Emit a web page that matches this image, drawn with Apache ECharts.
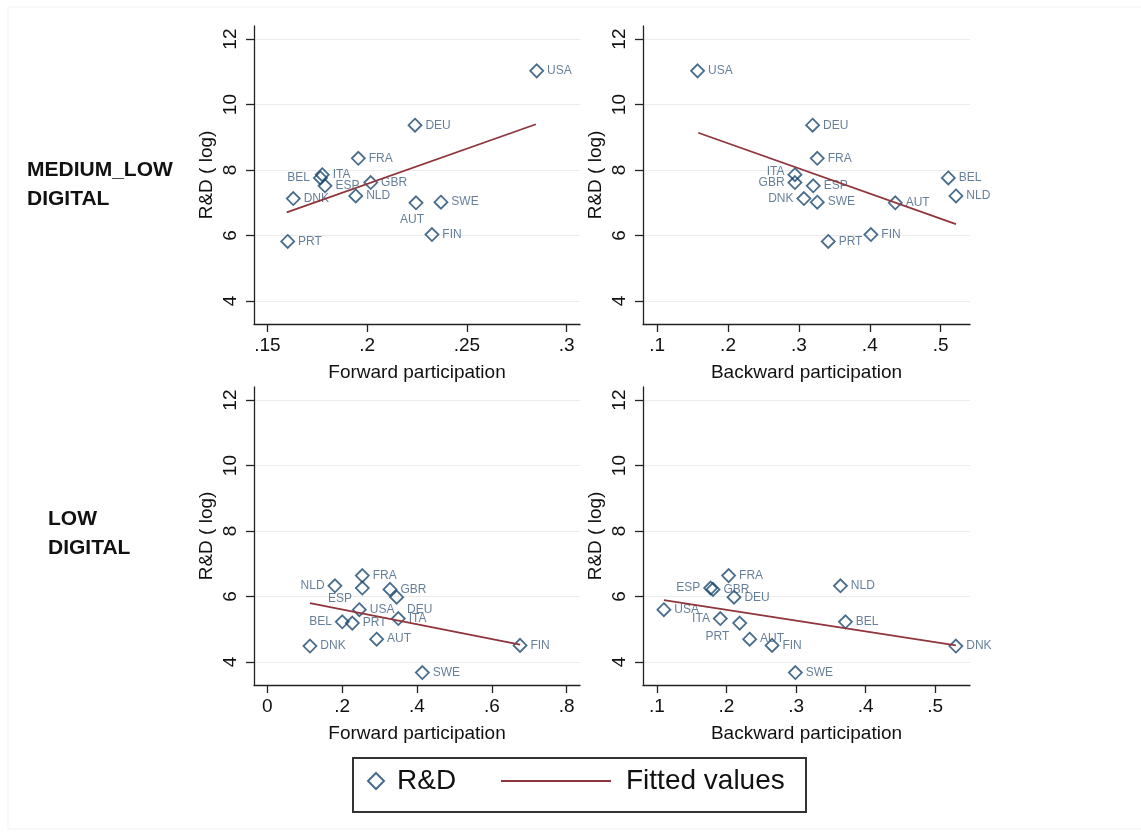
<!DOCTYPE html>
<html>
<head>
<meta charset="utf-8">
<title>R&D vs GVC participation</title>
<script src="https://cdn.jsdelivr.net/npm/echarts@6/dist/echarts.min.js"></script>
<style>
  html, body { margin: 0; padding: 0; background: #fff; }
  #main { width: 1141px; height: 834px; }
</style>
</head>
<body>
<div id="main"></div>
<script>
// ---- data ----
// medium-low digital sectors
const namesMedLow = ['USA', 'DEU', 'FRA', 'ITA', 'BEL', 'GBR', 'ESP', 'NLD', 'DNK', 'AUT', 'SWE', 'FIN', 'PRT'];
const rdMedLow    = [11.03, 9.37, 8.36, 7.86, 7.76, 7.62, 7.52, 7.21, 7.13, 7.00, 7.02, 6.03, 5.82];
const fwdMedLow   = [0.285, 0.224, 0.1956, 0.1775, 0.1766, 0.2018, 0.1789, 0.1943, 0.163, 0.2245, 0.237, 0.2325, 0.1602];
const bwdMedLow   = [0.157, 0.3193, 0.3259, 0.2944, 0.5108, 0.2944, 0.3202, 0.5216, 0.307, 0.436, 0.3259, 0.4016, 0.3414];
const fitFwdMedLow = [[0.1597, 6.71], [0.2846, 9.40]];
const fitBwdMedLow = [[0.1579, 9.14], [0.5216, 6.35]];

// low digital sectors
const namesLow = ['FRA', 'NLD', 'ESP', 'GBR', 'DEU', 'USA', 'ITA', 'BEL', 'PRT', 'AUT', 'FIN', 'DNK', 'SWE'];
const rdLow    = [6.64, 6.33, 6.26, 6.22, 5.98, 5.60, 5.33, 5.23, 5.19, 4.70, 4.51, 4.49, 3.68];
const fwdLow   = [0.2539, 0.1808, 0.2539, 0.3278, 0.3457, 0.2459, 0.3501, 0.2004, 0.2272, 0.2922, 0.6753, 0.114, 0.4143];
const bwdLow   = [0.2031, 0.3638, 0.1772, 0.1806, 0.2108, 0.110, 0.1911, 0.371, 0.219, 0.2333, 0.2655, 0.5297, 0.299];
const fitFwdLow = [[0.114, 5.80], [0.6753, 4.53]];
const fitBwdLow = [[0.110, 5.89], [0.5297, 4.51]];

// tick labels
const yTicks = [4, 6, 8, 10, 12];
const xTicksFwdMedLow = [0.15, 0.2, 0.25, 0.3];
const xTicksBwd = [0.1, 0.2, 0.3, 0.4, 0.5];
const xTicksFwdLow = [0, 0.2, 0.4, 0.6, 0.8];

const navy = '#1a476f';
const maroon = '#90353b';
const font = 'Liberation Sans, Arial, sans-serif';

// where a country label sits when it is not to the right of its marker
const labelLeft = {position: 'left'};
const labelPos = [
  {BEL: labelLeft, AUT: {position: 'bottom', offset: [-4, 0]}},
  {ITA: {position: 'left', offset: [0, -3]}, GBR: labelLeft, DNK: labelLeft},
  {NLD: labelLeft, BEL: labelLeft, ESP: {position: 'left', offset: [0, 11]}, DEU: {position: 'right', offset: [0, 12]}},
  {ESP: labelLeft, ITA: labelLeft, PRT: {position: 'left', offset: [0, 14]}}
];

function tickFmt(v) {
  return String(+(+v).toFixed(2)).replace(/^0\./, '.');
}

function xAxisCfg(idx, min, max, ticks, title) {
  return {
    type: 'value', gridIndex: idx, min: min, max: max,
    name: title, nameLocation: 'middle', nameGap: 39,
    nameTextStyle: {fontSize: 19, color: '#111', fontFamily: font},
    axisLine: {onZero: false, lineStyle: {color: '#222', width: 1.3}},
    axisTick: {length: 8, customValues: ticks, lineStyle: {color: '#222', width: 1.3}},
    axisLabel: {customValues: ticks, formatter: tickFmt, margin: 12, fontSize: 19, color: '#111', fontFamily: font},
    splitLine: {show: false}
  };
}

function yAxisCfg(idx) {
  return {
    type: 'value', gridIndex: idx, min: 3.3, max: 12.4,
    name: 'R&D ( log)', nameLocation: 'middle', nameGap: 38,
    nameTextStyle: {fontSize: 19, color: '#111', fontFamily: font},
    axisLine: {show: true, onZero: false, lineStyle: {color: '#222', width: 1.3}},
    axisTick: {show: true, length: 8, customValues: yTicks, lineStyle: {color: '#222', width: 1.3}},
    axisLabel: {customValues: yTicks, rotate: 90, margin: 14, fontSize: 19, color: '#111', fontFamily: font},
    splitLine: {show: true, lineStyle: {color: '#ebebeb', width: 1}}
  };
}

function scatterSeries(idx, xs, ys, names) {
  const pos = labelPos[idx];
  return {
    name: 'R&D', type: 'scatter', xAxisIndex: idx, yAxisIndex: idx,
    symbol: 'diamond', symbolSize: 13,
    itemStyle: {color: 'rgba(0,0,0,0)', borderColor: navy, borderWidth: 1.8},
    label: {show: true, formatter: '{b}', position: 'right', distance: 3, fontSize: 12, color: '#3e5f82', fontFamily: font},
    data: xs.map(function (x, i) {
      const item = {name: names[i], value: [x, ys[i]]};
      if (pos[names[i]]) item.label = pos[names[i]];
      return item;
    })
  };
}

function fitSeries(idx, pts) {
  return {
    name: 'Fitted values', type: 'line', xAxisIndex: idx, yAxisIndex: idx,
    showSymbol: false, symbol: 'none', color: maroon,
    lineStyle: {color: maroon, width: 1.8},
    data: pts
  };
}

const myChart = echarts.init(document.getElementById('main'), null, {renderer: 'canvas'});

const option = {
  backgroundColor: '#fff',
  animation: false,
  textStyle: {fontFamily: font},
  grid: [
    {left: 254, top: 26, width: 326, height: 298},
    {left: 643, top: 26, width: 327, height: 298},
    {left: 254, top: 387, width: 326, height: 298},
    {left: 643, top: 387, width: 327, height: 298}
  ],
  xAxis: [
    xAxisCfg(0, 0.1433, 0.3067, xTicksFwdMedLow, 'Forward participation'),
    xAxisCfg(1, 0.08, 0.5414, xTicksBwd, 'Backward participation'),
    xAxisCfg(2, -0.0355, 0.8355, xTicksFwdLow, 'Forward participation'),
    xAxisCfg(3, 0.08, 0.55, xTicksBwd, 'Backward participation')
  ],
  yAxis: [yAxisCfg(0), yAxisCfg(1), yAxisCfg(2), yAxisCfg(3)],
  legend: [
    {
      data: ['R&D'], left: 362, top: 762, selectedMode: false,
      icon: 'diamond', itemWidth: 16, itemHeight: 16,
      textStyle: {fontSize: 28, color: '#111', padding: [0, 0, 0, 8]}
    },
    {
      data: ['Fitted values'], left: 496, top: 762, selectedMode: false,
      icon: 'rect', itemWidth: 110, itemHeight: 2,
      textStyle: {fontSize: 28, color: '#111', padding: [0, 0, 0, 10]}
    }
  ],
  graphic: [
    {type: 'rect', shape: {x: 8, y: 7, width: 1140, height: 822}, style: {fill: 'none', stroke: '#f3f3f3', lineWidth: 1}, silent: true},
    {type: 'rect', shape: {x: 353, y: 758, width: 453, height: 54}, style: {fill: 'none', stroke: '#333', lineWidth: 2}, silent: true},
    {type: 'text', left: 27, top: 156, style: {text: 'MEDIUM_LOW\nDIGITAL', font: 'bold 21px ' + font, fill: '#111', lineHeight: 29}},
    {type: 'text', left: 48, top: 505, style: {text: 'LOW\nDIGITAL', font: 'bold 21px ' + font, fill: '#111', lineHeight: 29}}
  ],
  series: [
    scatterSeries(0, fwdMedLow, rdMedLow, namesMedLow),
    fitSeries(0, fitFwdMedLow),
    scatterSeries(1, bwdMedLow, rdMedLow, namesMedLow),
    fitSeries(1, fitBwdMedLow),
    scatterSeries(2, fwdLow, rdLow, namesLow),
    fitSeries(2, fitFwdLow),
    scatterSeries(3, bwdLow, rdLow, namesLow),
    fitSeries(3, fitBwdLow)
  ]
};

myChart.setOption(option);
</script>
</body>
</html>
